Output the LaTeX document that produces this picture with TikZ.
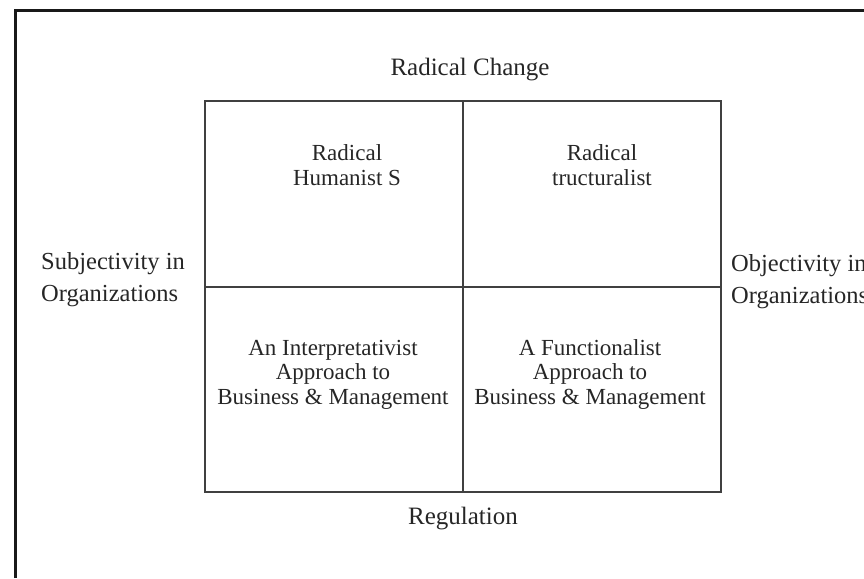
\documentclass[tikz,border=0pt]{standalone}
\usepackage{fontspec}
\setmainfont{Liberation Serif}
\usetikzlibrary{positioning}

\begin{document}
\begin{tikzpicture}[
            x=1pt, y=-1pt,
            node distance=0pt,
            quad/.style={draw=black!75, line width=1.8pt, inner sep=0pt,
                         outer sep=0pt, minimum width=258pt},
            pole/.style={font=\fontsize{25}{32}\selectfont, anchor=base,
                         inner sep=0pt, text=black!85},
            axis/.style={font=\fontsize{24.5}{32}\selectfont, align=left,
                         anchor=base west, inner sep=0pt, text=black!85},
            cell/.style={font=\fontsize{23}{24.5}\selectfont, align=center,
                         anchor=base, inner sep=0pt, text=black!85}]
            \useasboundingbox (0,0) rectangle (864,578);
            \draw [black!90, line width=3pt] (15,578) -- (15,11) -- (864,11);

            \node [quad, minimum height=186pt, anchor=north west] (rh) at (205,101) {};
            \node [quad, minimum height=186pt] (rs) [right = of rh] {};
            \node [quad, minimum height=205pt] (ip) [below = of rh] {};
            \node [quad, minimum height=205pt] (fn) [below = of rs] {};

            \node [pole] (rc) at (470,75) {Radical Change};
            \node [pole] (reg) at (463,524) {Regulation};
            \node [axis] (sub) at (41,301) {Subjectivity in\\Organizations};
            \node [axis] (obj) at (731,303) {Objectivity in\\Organizations};

            \node [cell] (rhtext) at (347,185) {Radical\\Humanist S};
            \node [cell] (rstext) at (602,185) {Radical\\tructuralist};
            \node [cell] (iptext) at (333,404) {An Interpretativist\\Approach to\\Business \& Management};
            \node [cell] (fntext) at (590,404) {A Functionalist\\Approach to\\Business \& Management};
\end{tikzpicture}
\end{document}
